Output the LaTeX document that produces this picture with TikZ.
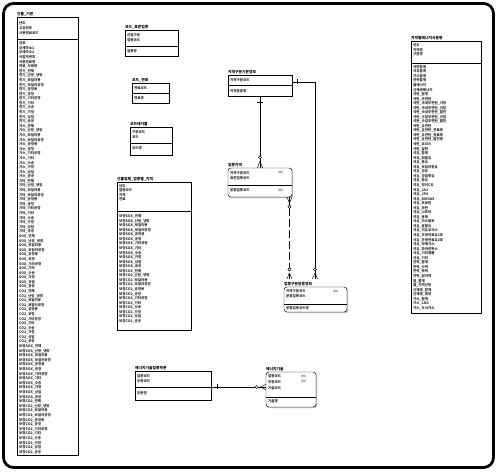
\documentclass[tikz,border=0pt]{standalone}
\usepackage{fontspec}
\newfontfamily\kr{Noto Sans CJK KR}
\usetikzlibrary{shadows,calc}
\tikzset{
  ebox/.style={draw=black, line width=0.45pt, fill=white, inner sep=0pt, outer sep=0pt, anchor=north west,
    drop shadow={shadow xshift=1.2pt, shadow yshift=-1.2pt, fill=black!45, opacity=0.6}},
  dbox/.style={ebox, rounded corners=3pt},
  etitle/.style={anchor=south west, inner sep=0pt, font=\kr\bfseries\fontsize{3.8}{4}\selectfont},
  attr/.style={anchor=west, inner sep=0pt, font=\kr\bfseries\fontsize{3.5}{4}\selectfont, text=black!85},
  fk/.style={anchor=west, inner sep=0pt, font=\kr\fontsize{2.8}{3}\selectfont},
  divline/.style={line width=0.4pt},
  rel/.style={line width=0.5pt},
  relmark/.style={line width=0.45pt},
  ring/.style={line width=0.45pt, fill=white},
}
\def\sfxlist{전체,난방\_냉방,보일러용,보일러공정,공정용,공정,기타공정,기타,수송,가정,상업,공공}
\begin{document}
\begin{tikzpicture}[x=1pt,y=-1pt]
\useasboundingbox (0,0) rectangle (497,473);
% outer frame
\draw[line width=2.8pt, rounded corners=10pt] (3.5,3.5) rectangle (493.5,467.5);

% ---------- 건물_기본 ----------
\node[etitle] (t1) at (17,16) {건물\_기본};
\node[ebox, minimum width=61pt, minimum height=438pt] (b1) at (17,17) {};
\draw[divline] (17,39) -- (78,39);
\node[attr] (b1k1) at (19,23) {년도};
\node[attr] (b1k2) at (19,28) {고유번호};
\node[attr] (b1k3) at (19,33) {사용연료코드};
\foreach \t [count=\i from 0] in {상호,상세주소1,상세주소2,사업자번호,사용연료명,연료\_사용량}{
  \node[attr] (b1r\i) at (19,{43.5+\i*4.59}) {\t};
}
\foreach \p [count=\g from 0] in {전기,가스,기타,SOX,CO2,보정SOX,보정CO2}{
  \foreach \s [count=\k from 0] in \sfxlist {
    \node[attr] (b1g\g-\k) at (19,{43.5+(6+\g*12+\k)*4.59}) {\p\_\s};
  }
}

% ---------- 코드_표준업종 ----------
\node[etitle] (t2) at (125,29) {코드\_표준업종};
\node[ebox, minimum width=53pt, minimum height=26pt] (b2) at (125,30) {};
\draw[divline] (125,46) -- (178,46);
\node[attr] (b2k1) at (127,35) {산업구분};
\node[attr] (b2k2) at (127,40) {업종코드};
\node[attr] (b2a1) at (127,51) {업종명};

% ---------- 코드_연료 ----------
\node[etitle] (t3) at (132,82) {코드\_연료};
\node[ebox, minimum width=37pt, minimum height=20pt] (b3) at (132,83) {};
\draw[divline] (132,93) -- (169,93);
\node[attr] (b3k1) at (134,88) {연료코드};
\node[attr] (b3a1) at (134,98.5) {연료명};

% ---------- 코드테이블 ----------
\node[etitle] (t4) at (130,126) {코드테이블};
\node[ebox, minimum width=42pt, minimum height=28pt] (b4) at (130,127) {};
\draw[divline] (130,143) -- (172,143);
\node[attr] (b4k1) at (132,132.5) {구분코드};
\node[attr] (b4k2) at (132,137.5) {코드};
\node[attr] (b4a1) at (132,148.5) {코드명};

% ---------- 건물업체_업종별_지역 ----------
\node[etitle] (t5) at (117,181) {건물업체\_업종별\_지역};
\node[ebox, minimum width=74pt, minimum height=148pt] (b5) at (117,182) {};
\draw[divline] (117,211.5) -- (191,211.5);
\node[attr] (b5k1) at (119,186) {년도};
\node[attr] (b5k2) at (119,190.5) {업종코드};
\node[attr] (b5k3) at (119,195) {지역};
\node[attr] (b5k4) at (119,199.5) {연료};
\foreach \p [count=\g from 0] in {보정SOX,보정CO2}{
  \foreach \s [count=\k from 0] in \sfxlist {
    \node[attr] (b5g\g-\k) at (119,{216.5+(\g*12+\k)*4.55}) {\p\_\s};
  }
}

% ---------- 지역구분기본정보 ----------
\node[etitle] (t6) at (228,74) {지역구분기본정보};
\node[ebox, minimum width=64pt, minimum height=21pt] (b6) at (228,75) {};
\draw[divline] (228,85.5) -- (292,85.5);
\node[attr] (b6k1) at (230,80) {지역구분코드};
\node[attr] (b6a1) at (230,90.8) {지역분류명};

% ---------- 업종지역 ----------
\node[etitle] (t7) at (228,167) {업종지역};
\node[dbox, minimum width=64pt, minimum height=29pt] (b7) at (228,168) {};
\draw[divline] (228,185) -- (292,185);
\node[attr] (b7k1) at (230,173) {지역구분코드};
\node[fk] (b7f1) at (278,173) {(FK)};
\node[attr] (b7k2) at (230,178) {표준업종코드};
\node[attr] (b7a1) at (230,190.5) {분류업종코드};
\node[fk] (b7f2) at (278,190.5) {(FK)};

% ---------- 업종구분분류정보 ----------
\node[etitle] (t8) at (284,286) {업종구분분류정보};
\node[dbox, minimum width=63pt, minimum height=25pt] (b8) at (284,287) {};
\draw[divline] (284,304.5) -- (347,304.5);
\node[attr] (b8k1) at (286,291.5) {지역구분코드};
\node[fk] (b8f1) at (333,291.5) {(FK)};
\node[attr] (b8k2) at (286,296.5) {분류업종코드};
\node[attr] (b8a1) at (286,308.3) {분류업종코드명};

% ---------- 지역별에너지사용량 ----------
\node[etitle] (t9) at (411,40) {지역별에너지사용량};
\node[ebox, minimum width=70pt, minimum height=272pt] (b9) at (411,41) {};
\draw[divline] (411,63) -- (481,63);
\node[attr] (b9k1) at (413,45.5) {년도};
\node[attr] (b9k2) at (413,50) {지역명};
\node[attr] (b9k3) at (413,54.5) {구분명};
\foreach \t [count=\i from 0] in {석탄합계,석유합계,가스합계,전력합계,열에너지,신재생에너지,석탄\_합계,석탄\_무연탄,석탄\_국내무연탄\_가정,석탄\_국내무연탄\_산업,석탄\_국내무연탄\_발전,석탄\_수입무연탄\_산업,석탄\_수입무연탄\_발전,석탄\_유연탄,석탄\_유연탄\_연료용,석탄\_유연탄\_원료용,석탄\_유연탄\_발전용,석탄\_코크스,석탄\_갈탄,석유\_합계,석유\_휘발유,석유\_등유,석유\_보일러등유,석유\_경유,석유\_경질중유,석유\_중유,석유\_벙커C유,석유\_JA1,석유\_JP4,석유\_AVIGAS,석유\_프로판,석유\_부탄,석유\_나프타,석유\_용제,석유\_아스팔트,석유\_윤활유,석유\_석유코크스,석유\_부생연료유1호,석유\_부생연료유2호,석유\_정제가스,석유\_파라핀왁스,석유\_기타제품,석유\_기타,전력\_합계,전력\_수력,전력\_화력,전력\_원자력,열\_합계,열\_지역난방,신재생\_합계,신재생\_태양,가스\_합계,가스\_LNG,가스\_도시가스}{
  \node[attr] (b9r\i) at (413,{67+\i*4.55}) {\t};
}

% ---------- 에너지기술업종부문 ----------
\node[etitle] (t10) at (135,370) {에너지기술업종부문};
\node[ebox, minimum width=76pt, minimum height=29pt] (b10) at (135,371) {};
\draw[divline] (135,387) -- (211,387);
\node[attr] (b10k1) at (137,376) {업종코드};
\node[attr] (b10k2) at (137,381) {부문코드};
\node[attr] (b10a1) at (137,393) {부문명};

% ---------- 에너지기술 ----------
\node[etitle] (t11) at (266,371) {에너지기술};
\node[dbox, minimum width=50pt, minimum height=35pt] (b11) at (266,372) {};
\draw[divline] (266,397) -- (316,397);
\node[attr] (b11k1) at (268,376.5) {업종코드};
\node[fk] (b11f1) at (301,376.5) {(FK)};
\node[attr] (b11k2) at (268,382) {부문코드};
\node[fk] (b11f2) at (301,382) {(FK)};
\node[attr] (b11k3) at (268,388) {기술코드};
\node[attr] (b11a1) at (268,401.5) {기술명};

% ---------- relationships ----------
% 지역구분기본정보 -> 업종지역
\draw[rel] (b6) -- (b7);
\draw[relmark] (257,102) -- (263,102);
\draw[relmark] (260,161) -- (257.3,168) (260,161) -- (262.7,168);
\draw[ring] (260,157.3) circle (1.6pt);

% 지역구분기본정보 -> 업종구분분류정보
\coordinate (c1) at (315,279);
\draw[rel] ([yshift=3.5pt]b6.east) -| (c1);
\draw[relmark] (297,79.5) -- (297,84.5);
\draw[relmark] (315,273) -- (312.4,279) (315,273) -- (317.6,279);
\draw[ring] (315,269.4) circle (1.6pt);

% 업종지역 -> 업종구분분류정보 (dashed)
\coordinate (c2top) at ([xshift=-2.5pt]b7.south east);
\coordinate (c2) at (289.5,279);
\draw[rel, dash pattern=on 8pt off 3pt] (c2top) -- (c2);
\draw[relmark] (289.5,203) -- (286.9,197) (289.5,203) -- (292.1,197);
\draw[ring] (289.5,206.6) circle (1.6pt);
\draw[relmark] (289.5,273) -- (286.9,279) (289.5,273) -- (292.1,279);
\draw[ring] (289.5,269.4) circle (1.6pt);

% 에너지기술업종부문 -> 에너지기술
\coordinate (d1) at ([yshift=-1.5pt]b10.east);
\draw[rel] (d1) -- (d1 -| b11.west);
\draw[relmark] (217,384) -- (217,389);
\draw[relmark] (260,387) -- (266,384.4) (260,387) -- (266,389.6);
\draw[ring] (256.5,387) circle (1.6pt);
\end{tikzpicture}
\end{document}
